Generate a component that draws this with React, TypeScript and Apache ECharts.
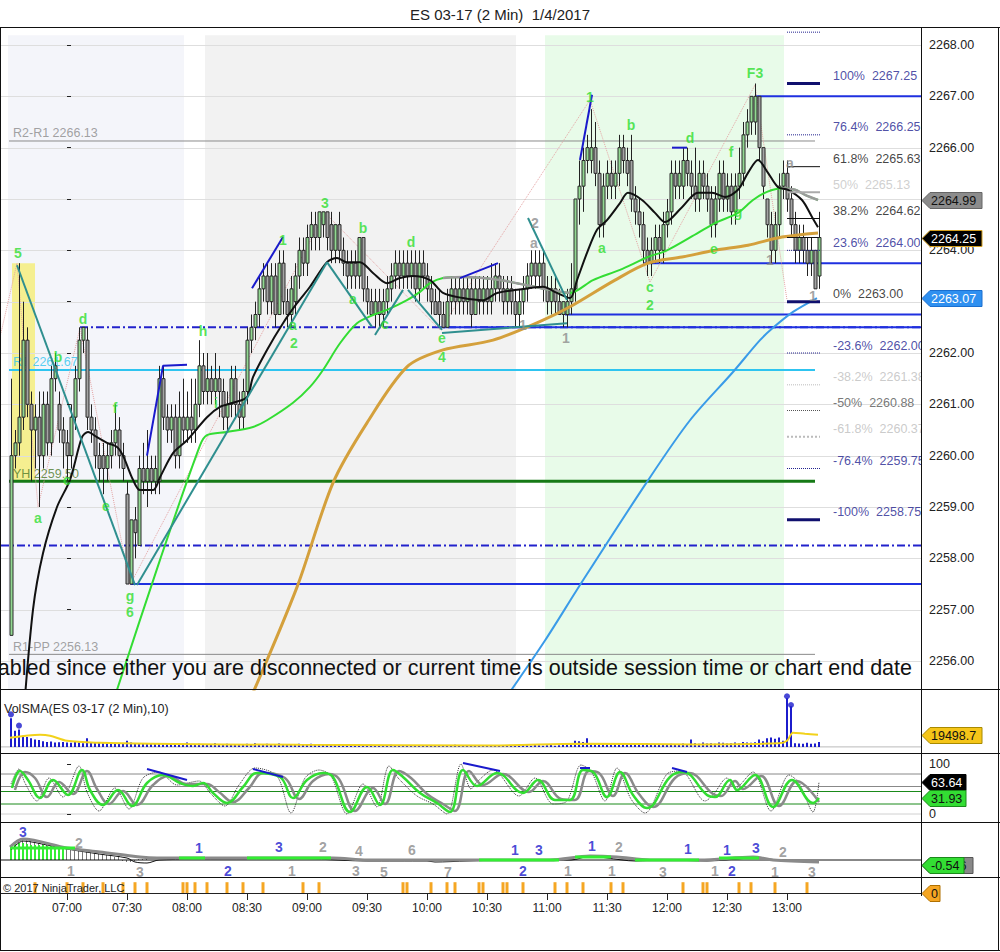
import { useEffect, useRef } from "react";
import * as echarts from "echarts";

const FONT = '"Liberation Sans", Arial, sans-serif';

// x is counted in 2-minute bars from 07:00
const X_MIN = -16.5;
const X_MAX = 213.5;
const FIRST_BAR = -14; // 06:32
const MAIN_MIN = 2255.455;
const MAIN_MAX = 2268.331;

const priceTicks = [2256, 2257, 2258, 2259, 2260, 2261, 2262, 2263, 2264, 2265, 2266, 2267, 2268];
const timeTicks = [0, 15, 30, 45, 60, 75, 90, 105, 120, 135, 150, 165, 180];

// open, close, low, high
const candles: number[][] = [
  [2256.5,2260,2256.5,2261.5],[2260,2260.25,2259.75,2260.5],[2260.25,2260.75,2260,2263.75],[2260.75,2262.25,2260.5,2263],[2262.25,2261,2260.75,2262.5],[2261,2260.5,2259.5,2261.25],[2260.5,2260.75,2259.75,2261],[2260.75,2260,2259,2261.25],[2260,2261,2259.75,2261.25],[2261,2260.25,2260,2261.25],
  [2260.25,2261.5,2260,2261.75],[2261.5,2261.75,2261.25,2262],[2261,2260.5,2260.25,2261.25],[2260.5,2260.25,2259.75,2260.75],[2260.25,2260,2259.5,2260.5],[2260,2260.75,2259.75,2261],[2260.75,2261.5,2260.5,2261.75],[2261.5,2262.25,2261.25,2262.5],[2262.25,2262.5,2262,2262.5],[2262.25,2260.75,2260.5,2262.5],
  [2260.75,2260.5,2260.25,2261],[2260.5,2260,2259.75,2260.75],[2260,2259.75,2259.5,2260.25],[2260,2259.75,2259.25,2260.25],[2259.75,2260,2259.5,2260.25],[2260,2260.25,2259.75,2260.5],[2260.25,2260.5,2260,2261],[2260.5,2260,2259.75,2260.75],[2260,2259.75,2259.5,2260.25],[2259.25,2257.5,2257.5,2259.5],
  [2257.5,2258.75,2257.5,2258.75],[2258.75,2258.5,2258,2259],[2258.25,2259.75,2258.25,2260],[2259.75,2259.5,2259.25,2260.25],[2259.5,2259.75,2259,2260.5],[2259.75,2259.5,2259.25,2260],[2259.5,2259.75,2259.25,2260],[2259.5,2261.5,2259.25,2261.75],[2261.5,2260.75,2260.5,2261.75],[2260.75,2260.5,2260.25,2261],
  [2260.5,2260.75,2260.25,2261],[2260.75,2260,2259.75,2261],[2260,2260.75,2259.75,2261.25],[2260.75,2260.5,2260.25,2261.5],[2260.5,2260.75,2260.25,2261.25],[2260.75,2260.5,2260.25,2261.5],[2260.5,2261,2260.25,2261.5],[2261,2261.75,2260.75,2262.25],[2261.75,2261.25,2261,2262],[2261.25,2261.5,2261,2262],
  [2261.5,2261.25,2261,2261.75],[2261.25,2261.5,2261,2262],[2261.5,2261.25,2260.75,2261.75],[2261.25,2260.75,2260.5,2261.5],[2260.75,2261,2260.5,2261.25],[2261,2261.5,2260.75,2261.75],[2261.5,2261,2260.75,2261.75],[2261,2260.75,2260.5,2261.25],[2260.75,2261.25,2260.5,2261.5],[2261.25,2262.25,2261,2262.5],
  [2262.25,2262.5,2262,2262.75],[2262.5,2262.75,2262.25,2263],[2262.75,2263.25,2262.5,2263.5],[2263.25,2263.5,2263,2263.75],[2263.5,2263,2262.75,2263.75],[2263,2263.5,2262.75,2263.75],[2263.5,2262.75,2262.5,2263.75],[2262.75,2263.75,2262.75,2264],[2263.75,2263,2262.75,2264],[2263,2262.75,2262.5,2263.25],
  [2262.75,2263.25,2262.5,2263.5],[2263,2263.5,2262.75,2263.75],[2263.5,2264,2263.25,2264.25],[2264,2263.75,2263.5,2264.25],[2263.75,2264.25,2263.5,2264.5],[2264.25,2264.5,2264,2264.75],[2264.5,2264.25,2264,2264.75],[2264.25,2264.75,2264,2264.75],[2264.5,2264.75,2264.25,2264.75],[2264.75,2264.25,2264,2264.75],
  [2264.5,2264,2263.75,2264.75],[2264,2264.5,2263.75,2264.5],[2264.5,2264,2263.75,2264.75],[2264,2263.75,2263.5,2264.25],[2263.75,2263.5,2263.25,2264],[2263.5,2263.75,2263.25,2264],[2263.75,2263.5,2263.25,2264],[2263.5,2264.25,2263.25,2264.25],[2264.25,2263.25,2263,2264.25],[2263.25,2263,2262.75,2263.5],
  [2263,2262.75,2262.75,2263.25],[2262.75,2263,2262.5,2263.25],[2263,2262.75,2262.5,2263.25],[2262.75,2263,2262.5,2263.25],[2263,2263.25,2262.75,2263.5],[2263.25,2263.5,2263,2263.75],[2263.5,2263.75,2263.25,2264],[2263.75,2263.5,2263.25,2264],[2263.5,2263.75,2263.25,2264],[2263.75,2263.5,2263.25,2264],
  [2263.5,2263.75,2263.25,2264],[2263.75,2263.25,2263,2264],[2263.25,2263.75,2263,2264],[2263.75,2263.5,2263.25,2264],[2263.5,2263.25,2263,2263.75],[2263.25,2263,2262.75,2263.5],[2263,2262.75,2262.75,2263.25],[2263,2262.75,2262.5,2263.25],[2262.75,2262.5,2262.5,2263],[2262.5,2263,2262.5,2263.25],
  [2263,2263.25,2262.75,2263.5],[2263.25,2263,2262.75,2263.5],[2263,2263.25,2262.75,2263.5],[2263.25,2263,2262.75,2263.5],[2263,2263.25,2262.75,2263.5],[2263.25,2262.75,2262.5,2263.5],[2262.75,2263.25,2262.75,2263.5],[2263.25,2263,2262.75,2263.5],[2263,2263.25,2262.75,2263.5],[2263.25,2263,2262.75,2263.5],
  [2263,2263.25,2262.75,2263.75],[2263.25,2263.5,2263,2263.75],[2263.5,2263.25,2263,2263.75],[2263.25,2263,2262.75,2263.5],[2263,2263.25,2262.75,2263.5],[2263.25,2263,2262.75,2263.5],[2263,2262.75,2262.5,2263.25],[2262.75,2263,2262.5,2263.25],[2263,2263.25,2262.75,2263.5],[2263.25,2263.5,2263,2263.75],
  [2263.5,2263.75,2263.25,2264],[2263.75,2263.5,2263.25,2264],[2263.5,2263.75,2263.25,2264],[2263.75,2263.25,2263,2264],[2263.25,2263,2262.75,2263.5],[2263,2263.25,2262.75,2263.5],[2263.25,2263,2262.75,2263.5],[2263,2262.75,2262.75,2263.25],[2262.75,2263,2262.5,2263],[2262.75,2263,2262.5,2263.25],
  [2263,2263.25,2262.75,2263.75],[2263.25,2265,2263,2265],[2265,2265.25,2264.5,2265.75],[2265.25,2265.75,2264.75,2266],[2265.75,2266,2265.5,2266.25],[2265.75,2266,2265.5,2266.75],[2266,2265.5,2265.25,2266.5],[2265.5,2264.5,2264.25,2265.75],[2264.5,2265.25,2264.25,2265.5],[2265.25,2265.5,2265,2265.75],
  [2265.5,2265.25,2265,2265.75],[2265.25,2265.5,2265,2265.75],[2265.5,2266,2265.25,2266.25],[2266,2265.75,2265.5,2266.25],[2265.75,2265.5,2265.25,2266],[2265.75,2265,2264.75,2266.25],[2265,2264.75,2264.5,2265.25],[2264.75,2264.5,2264.25,2265],[2264.5,2264,2263.75,2264.75],[2264,2263.75,2263.5,2264.25],
  [2263.75,2264,2263.5,2264.25],[2264,2264.25,2263.75,2264.5],[2264.25,2264,2263.75,2264.5],[2264,2264.5,2263.75,2264.75],[2264.5,2264.75,2264.25,2265],[2264.75,2265.5,2264.5,2265.75],[2265.5,2265.25,2265,2265.75],[2265.25,2265.5,2265,2265.75],[2265.25,2265.75,2265,2266],[2265.75,2265.5,2265.25,2266],
  [2265.5,2265.25,2265,2265.75],[2265.25,2265,2264.75,2266],[2265,2265.5,2264.75,2265.75],[2265.5,2265.25,2265,2265.75],[2265.25,2265,2264.75,2265.5],[2265,2264.5,2264.25,2265.25],[2264.5,2265,2264.25,2265.25],[2265,2265.5,2264.75,2265.75],[2265.5,2265,2264.75,2265.75],[2265,2265.25,2264.75,2265.5],
  [2265.25,2264.75,2264.5,2265.5],[2264.75,2265.25,2264.5,2265.5],[2265.25,2265.5,2265,2266],[2265.5,2266.25,2265.25,2266.5],[2266.25,2266.5,2266,2266.75],[2266.5,2267,2266.25,2267],[2266.5,2267,2266.25,2267.25],[2267,2266,2265.75,2267],[2266,2265.25,2265,2266],[2265,2264.5,2264.25,2265],
  [2264.5,2264,2263.75,2264.75],[2264,2264.5,2263.75,2264.75],[2264.5,2265.25,2264.25,2265.5],[2265.25,2265.5,2265,2265.75],[2265.5,2265,2264.75,2265.75],[2265,2264.5,2264.25,2265.25],[2264.5,2264,2263.75,2264.75],[2264,2264.25,2263.75,2264.5],[2264.25,2264,2263.75,2264.5],[2264,2263.75,2263.5,2264.25],
  [2263.75,2264,2263.5,2264.25],[2264,2263.25,2263.25,2264],[2263.5,2264.25,2263.25,2264.75],
];

const volumes = [
  46000, 26000, 28000, 18000, 16000, 14000, 12000, 11000, 9000, 8000, 8500, 7000, 7500, 8000,
  7000, 6500, 9000, 7000, 6000, 14000, 8000, 7000, 6500, 6000, 5500, 6000, 5000, 6000, 5500,
  10000, 7000, 6000, 5500, 5000, 6000, 5000, 4500, 5000, 4000, 5000, 4500, 5000, 4500, 4000,
  7000, 4500, 4000, 5000, 4000, 4000, 3500, 6000, 4000, 3500, 5000, 3500, 4500, 4000, 3500,
  5000, 4000, 6000, 4000, 3500, 5000, 4000, 3500, 5500, 4500, 4000, 3500, 4000, 5000, 4500,
  4000, 5000, 3500, 4000, 4500, 4000, 3000, 3500, 4000, 3500, 3000, 3500, 4000, 3500, 3000,
  2500, 3500, 3000, 2000, 3000, 2500, 3500, 2000, 2500, 3000, 2000, 2500, 3000, 2500, 2000,
  3000, 2500, 2000, 3000, 2500, 2000, 2500, 3500, 2000, 2500, 3000, 2000, 2500, 2000, 3000,
  2500, 2000, 3000, 2500, 2000, 2500, 3000, 2000, 2500, 3000, 2500, 2000, 3000, 2500, 2000,
  2500, 3000, 2000, 2500, 3000, 4000, 5000, 10000, 9000, 8000, 14000, 6000, 4500, 6000, 5000,
  4000, 6000, 5500, 4500, 5000, 4000, 6000, 5500, 5000, 4500, 6000, 4000, 3500, 4500, 4000,
  3500, 5000, 3000, 4000, 5500, 4000, 12000, 6000, 5000, 7000, 5500, 6000, 5000, 7000, 6500,
  5500, 6000, 7000, 5500, 8000, 7000, 6500, 7500, 12000, 9000, 14000, 15000, 13000, 15000, 10000,
  78000, 65000, 6000, 5500, 5000, 6500, 5000, 5500, 8000,
];
const volDots = [[-14, 52000], [-12, 34000], [180, 81000], [181, 67000]];
const volSMA = [[-14.25, 14600], [-6.75, 19500], [-4.25, 17900], [0, 9750], [8.25, 6500], [20.75, 4900], [58, 3250], [108, 2400], [128, 4900], [158, 4000], [178, 5700], [180, 9750], [181.5, 22750], [184.5, 21000], [187.75, 19500]];

const fastMA = [[-11, 2254.8], [-8.5, 2257], [-6, 2258.1], [-2.5, 2259], [0.75, 2259.53], [3.75, 2260.36], [5.25, 2260.46], [7.5, 2260.36], [10, 2260.25], [12.5, 2260.17], [14, 2260], [16.5, 2259.53], [18.25, 2259.33], [21.5, 2259.33], [23.25, 2259.58], [26.5, 2260.05], [30, 2260.3], [35, 2260.75], [38.25, 2260.95], [41.5, 2261.03], [45, 2261.14], [46.5, 2261.53], [50, 2262.06], [54, 2262.58], [57.5, 2262.97], [60.75, 2263.29], [65, 2263.77], [67.5, 2263.85], [70, 2263.77], [73.25, 2263.77], [76.5, 2263.56], [80, 2263.36], [83.25, 2263.46], [86.5, 2263.5], [90.75, 2263.42], [94, 2263.17], [99, 2263.07], [104, 2263.03], [107.5, 2263.17], [112.5, 2263.23], [119, 2263.29], [122.5, 2263.17], [125.75, 2263.07], [127.5, 2263.42], [130, 2263.95], [132.5, 2264.4], [135, 2264.59], [138.25, 2264.92], [140.25, 2265.12], [143.75, 2264.98], [147, 2264.73], [149.5, 2264.55], [153.75, 2264.84], [157.75, 2265.12], [161.25, 2265.12], [164.5, 2265.04], [167.75, 2265.18], [170.25, 2265.51], [172.75, 2265.76], [175.25, 2265.51], [177.75, 2265.23], [180.25, 2265.18], [183.75, 2264.98], [186.25, 2264.65], [187.75, 2264.45]];
const midMA = [[11.5, 2255.2], [23.25, 2257.97], [33.25, 2260.2], [35, 2260.4], [40, 2260.46], [46.5, 2260.56], [50, 2260.69], [56.5, 2261.03], [60.75, 2261.34], [64, 2261.67], [68.25, 2262.19], [72.5, 2262.58], [76.5, 2262.74], [80, 2262.84], [85, 2263.03], [88.25, 2263.19], [90.75, 2263.36], [94, 2263.46], [99, 2263.48], [108.25, 2263.42], [120.75, 2263.23], [125.75, 2263.17], [131.5, 2263.42], [138.25, 2263.62], [145.25, 2263.87], [150, 2264], [157.75, 2264.34], [162, 2264.53], [167.75, 2264.73], [171.5, 2264.98], [175, 2265.14], [178.75, 2265.21], [182, 2265.18], [184.5, 2265.08], [187.75, 2264.98]];
const midMAFalling = [
  [[94, 2263.46], [99, 2263.48], [108.25, 2263.42], [120.75, 2263.23], [125.75, 2263.17]],
  [[178.75, 2265.21], [182, 2265.18], [184.5, 2265.08], [187.75, 2264.98]],
];
const slowMA = [[45.5, 2255.2], [57.5, 2257.44], [66.5, 2259.47], [75, 2260.64], [85, 2261.73], [94, 2262.06], [106.5, 2262.25], [119, 2262.64], [125.75, 2262.9], [137, 2263.42], [145.25, 2263.75], [153.75, 2263.87], [162, 2264], [170.25, 2264.1], [178.75, 2264.26], [187.75, 2264.34]];
const longMA = [[109, 2255.2], [119.5, 2256.4], [128.25, 2257.48], [145, 2259.49], [155.75, 2260.69], [166.5, 2261.63], [173.25, 2262.25], [176.5, 2262.49], [181.5, 2262.8], [187.5, 2263.07]];

const waveLines = [
  [[-12.5, 2263.71], [17, 2257.48]],
  [[17.5, 2257.48], [65, 2263.77]],
  [[65, 2263.77], [76.25, 2262.51]],
  [[77, 2262.35], [84, 2263.23]],
  [[85.25, 2263.23], [93.75, 2262.45]],
  [[93.75, 2262.39], [125, 2262.58]],
  [[115.25, 2264.63], [125, 2263.03]],
];
const blueTrends = [
  [[20, 2260], [24, 2261.75], [30, 2261.77]],
  [[46.25, 2263.26], [54, 2264.26]],
  [[98.25, 2263.46], [107.75, 2263.75]],
  [[128.25, 2265.76], [131.25, 2267.03]],
  [[151.25, 2266], [155, 2266]],
];
const zigzag = [[-16.75, 2262.31], [-12.5, 2263.75], [-7.25, 2259], [3.25, 2262.49], [15.75, 2257.48], [64.5, 2264.73], [93.25, 2262.45], [130.75, 2266.93], [145.75, 2263.38], [172, 2267.22], [180, 2263.03]];

const pivots: [string, number][] = [["R2-R1", 2266.13], ["R1", 2261.67], ["YH", 2259.5], ["R1-PP", 2256.13]];
const swingLevels = [[2262.5, 93.25], [2262.75, 124.5], [2263.75, 144], [2267, 172], [2257.5, 15.75]];
const dashLevels = [[2262.5, 3.25], [2258.25, X_MIN]];

const fibLevels: [string, number][] = [
  ["100%", 2267.25], ["76.4%", 2266.25], ["61.8%", 2265.63], ["50%", 2265.13], ["38.2%", 2264.62],
  ["23.6%", 2264.0], ["0%", 2263.0], ["-23.6%", 2262.0], ["-38.2%", 2261.38], ["-50%", 2260.88],
  ["-61.8%", 2260.37], ["-76.4%", 2259.75], ["-100%", 2258.75],
];
const fibLook = [
  { line: "#10106e", w: 3, type: "solid", text: "#22228f" },
  { line: "#22228f", w: 1, type: "dotted", text: "#22228f" },
  { line: "#111", w: 1, type: "solid", text: "#111" },
  { line: "#aaa", w: 2, type: "solid", text: "#c4c4c4" },
  { line: "#111", w: 1, type: "solid", text: "#111" },
  { line: "#22228f", w: 1, type: "dotted", text: "#22228f" },
  { line: "#10106e", w: 3, type: "solid", text: "#111" },
  { line: "#22228f", w: 1, type: "dotted", text: "#22228f" },
  { line: "#bbb", w: 1, type: "dotted", text: "#bdbdbd" },
  { line: "#555", w: 1, type: "dotted", text: "#555" },
  { line: "#bbb", w: 2, type: "dotted", text: "#bdbdbd" },
  { line: "#22228f", w: 1, type: "dotted", text: "#22228f" },
  { line: "#10106e", w: 3, type: "solid", text: "#22228f" },
];

const greenLabels: [number, number, string][] = [
  [-12.25, 2263.95, "5"], [-7.25, 2258.79, "a"], [-2.25, 2261.92, "b"], [0, 2259.53, "c"], [4, 2262.66, "d"],
  [9.75, 2259.02, "e"], [12, 2260.93, "f"], [15.75, 2257.27, "g"], [15.75, 2256.95, "6"], [34, 2262.43, "h"],
  [37.25, 2261.03, "i"], [54, 2264.2, "1"], [56.5, 2262.55, "a"], [56.75, 2262.19, "2"], [64.5, 2264.92, "3"],
  [71.5, 2263.05, "a"], [74, 2264.43, "b"], [79.5, 2262.56, "c"], [86, 2264.16, "d"], [93.75, 2262.29, "e"],
  [93.75, 2261.92, "4"], [130.75, 2266.99, "1"], [133.75, 2264.05, "a"], [141, 2266.44, "b"], [145.75, 2263.29, "c"],
  [145.75, 2262.93, "2"], [155.75, 2266.19, "d"], [166, 2265.92, "f"], [161.75, 2264.03, "e"], [167.75, 2264.75, "g"],
  [172, 2267.45, "F3"],
];
const grayLabels: [number, number, string][] = [
  [117, 2264.53, "2"], [116.75, 2264.14, "a"], [114, 2262.55, "1"], [124.75, 2262.29, "1"],
  [175.75, 2263.81, "1"], [180.75, 2265.7, "a"], [186.5, 2263.11, "1"],
];

const stochGreen = [[-13.75,52],[-11.75,86],[-9.75,68],[-6.75,32],[-3.5,68],[0.25,38],[3.75,88],[5.75,48],[9,18],[12.75,48],[16.25,16],[20,62],[24,78],[28.25,62],[31.5,56],[34,62],[36.5,42],[40,22],[44,54],[47.5,82],[53.25,74],[56.5,32],[60,68],[64,82],[66.5,74],[70.75,4],[75,54],[78.25,18],[81.5,88],[84,74],[88.25,42],[92.5,22],[95.75,4],[99,88],[102.5,56],[107.5,82],[114,42],[117.75,68],[122,28],[125.75,28],[129,88],[131.5,84],[135,34],[138.25,84],[141.5,38],[145,12],[150.75,74],[154,84],[160,38],[162,34],[165.75,68],[167.5,48],[172,78],[176.5,14],[181.25,68],[186.5,22],[188,32]];
const stochGray = [[-13,48],[-10.5,84],[-8,72],[-5,34],[-2,64],[1.5,40],[5,86],[7.5,50],[10.5,20],[14,46],[17.5,18],[21.5,58],[25.5,76],[30,60],[35,60],[38,44],[41.5,24],[45.5,52],[49,82],[54.5,72],[58,30],[61.5,66],[65.5,80],[68,70],[72,6],[76.5,52],[79.5,20],[83,86],[86,72],[90,40],[94,20],[97,6],[100.5,86],[104,58],[109,80],[115.5,44],[119,66],[123.5,30],[127,28],[130.5,86],[133,82],[136.5,36],[139.5,82],[143,40],[146.5,14],[152,72],[155.5,82],[161.5,40],[163.5,36],[167,66],[169,50],[173.5,76],[178,16],[182.5,66],[188,24]];
const stochRaw = [[-14,60],[-12,90],[-10.5,62],[-7.5,26],[-4.5,72],[-1,34],[3,96],[5,44],[8,6],[12,52],[15.5,10],[19,72],[23,84],[27.5,58],[33,66],[36,40],[39.5,16],[43,58],[47,92],[52.5,76],[56,2],[59.5,72],[63,88],[66,76],[70,0],[74,60],[77.5,14],[80.5,96],[83,70],[87.5,36],[91.5,20],[95,0],[98.5,100],[101,50],[102.5,64],[106.5,88],[113,36],[117,72],[121.5,20],[125,26],[128.5,98],[131,86],[134.5,26],[137.5,92],[141,30],[144.5,2],[150,80],[153.5,86],[159.5,26],[161.5,38],[165,72],[167,52],[171.5,84],[176,6],[180.5,78],[183,62],[186.5,4],[188,64]];
const stochDivergence = [
  [[20, 90], [30, 68]], [[46.5, 90], [54, 74]], [[99, 102], [108.25, 86]], [[128.25, 92], [130.75, 92]], [[151.25, 92], [155, 84]],
];
const stochLevels = [[80, "#888"], [55, "#888"], [45, "#1a8a1a"], [20, "#1a8a1a"], [0, "#d0d0d0"]];

const oscGray = [[-14.25,1.3],[-11,2.1],[0,1.2],[8.25,0.8],[18.25,0.3],[22.5,0.2],[33.25,0.2],[58.25,0.2],[66.5,0.2],[75,0],[108.25,0],[120.75,0],[130.75,0.4],[137.5,0.3],[145.75,0],[158.25,0],[171.5,0.3],[176.5,0],[188,-0.2]];
const oscBlack = [[-14,1.0],[-11,1.9],[-5,1.5],[0,1.1],[8,0.6],[15,0.2],[17,-0.2],[20,-0.3],[23,0],[40,0.1],[60,0.1],[75,-0.1],[90,-0.1],[92,-0.2],[100,-0.1],[110,0],[126,0],[131,0.4],[135,0.2],[142,-0.1],[150,0],[160,-0.1],[172,0.2],[178,0],[188,-0.2]];
const oscGreenRuns = [[-14, 2, 1.2], [28, 34.5, 0.2], [45, 66, 0.2], [103, 123, 0], [127, 136, 0.3], [142, 158, 0], [163, 173, 0.2]];
const oscHistGray = [1.3,1.7,2.0,2.1,2.0,1.9,1.8,1.7,1.6,1.5,1.5,1.4,1.3,1.3,1.2,1.1,1.0,1.0,0.9,0.8,0.8,0.7,0.6,0.5,0.5,0.4,0.3,0.3,-0.1,-0.2,-0.2,-0.1,0.1,0.1,0.2];
const oscHistGreen = [1.4,1.6,1.7,1.7,1.6,1.5,1.5,1.5,1.5,1.4,1.4,1.3,1.3,1.2];
const oscLabels: [number, number, string, boolean][] = [
  [-11, 2.8, "3", true], [3, 1.7, "2", false], [33, 1.2, "1", true], [53, 1.3, "3", true], [64, 1.3, "2", false],
  [73, 0.9, "4", false], [86.25, 1.0, "6", false], [112, 1.0, "1", true], [118, 1.0, "3", true], [131.25, 1.4, "1", true],
  [138, 1.3, "2", false], [155.25, 1.1, "1", true], [165, 1.0, "1", true], [172.25, 1.2, "3", true], [179, 0.8, "2", false],
  [1, -1.1, "1", false], [18.25, -1.2, "3", false], [40.25, -1.1, "2", true], [56.25, -1.1, "1", false], [72.25, -1.1, "3", false],
  [79.25, -1.2, "5", false], [95.25, -1.2, "7", false], [114, -1.1, "2", true], [125.25, -1.1, "1", false], [136.25, -1.1, "1", false],
  [149, -1.2, "3", false], [162, -1.1, "1", false], [166.25, -1.1, "2", true], [177, -1.2, "1", false], [186.25, -1.2, "3", false],
];

const alertBars = [-8, 0, 4, 9, 14, 17, 20, 29, 30, 32, 35, 40, 44, 49, 59, 63, 84, 85, 91, 95, 97, 103, 104, 109, 110, 114, 122, 125, 129, 136, 139, 154, 159, 160, 168, 171, 177, 185];

// session bands [from, to] and the "5" highlight box
const sessions = [[-14.75, 29.25], [34.5, 112.25], [119.5, 179.25]];
const sessionColors = ["#f4f5fa", "#f2f2f2", "#e8fbe9"];
const highlight = [-13.75, -8, 2263.75, 2259.5];

// last-value tags: axis, value, text
const lastTags: [number, number, string][] = [
  [0, 2264.99, "2264.99"], [0, 2264.25, "2264.25"], [0, 2263.07, "2263.07"],
  [1, 19498.7, "19498.7"], [2, 63.64, "63.64"], [2, 31.93, "31.93"],
  [3, -0.546, "-0.546"], [3, -0.54, "-0.54"], [4, 0, "0"],
];
const tagLook = [
  { bg: "#8c8c8c", fg: "#111", w: 52, border: "#666" },
  { bg: "#000", fg: "#fff", w: 52, border: "#d4a020" },
  { bg: "#2f90f0", fg: "#fff", w: 52, border: "#1a6fd0" },
  { bg: "#f5c518", fg: "#111", w: 52, border: "#a88a00" },
  { bg: "#000", fg: "#fff", w: 36, border: "#000" },
  { bg: "#33dd33", fg: "#111", w: 36, border: "#1a8a1a" },
  { bg: "#888", fg: "#111", w: 43, border: "#555" },
  { bg: "#33dd33", fg: "#111", w: 34, border: "#1a8a1a" },
  { bg: "#f5a623", fg: "#111", w: 10, border: "#b07000" },
];

const fmtTime = (v: number) => {
  const m = 7 * 60 + v * 2;
  const h = Math.floor(m / 60);
  const mm = m % 60;
  return `${String(h).padStart(2, "0")}:${String(mm).padStart(2, "0")}`;
};

function seg(data: number[][], g: number, color: string, width: number, type: any = "solid", z = 3, smooth: any = false) {
  return {
    type: "line", xAxisIndex: g, yAxisIndex: g, data, symbol: "none", showSymbol: false, smooth, z, silent: true,
    lineStyle: { color, width, type },
  };
}

function textPoints(g: number, items: any[], label: any, z = 8) {
  return {
    type: "scatter", xAxisIndex: g, yAxisIndex: g, z, silent: true, symbolSize: 1,
    itemStyle: { color: "transparent" },
    data: items,
    label: { show: true, position: "inside", formatter: (p: any) => p.data.name, fontFamily: FONT, ...label },
  };
}

function buildOption(): any {
  const grids = [
    { left: 1, right: 79, top: 28, height: 661 },
    { left: 1, right: 79, top: 690, height: 63 },
    { left: 1, right: 79, top: 754, height: 68 },
    { left: 1, right: 79, top: 823, height: 54 },
    { left: 1, right: 79, top: 878, height: 18 },
  ];
  const hiddenX = (g: number) => ({ type: "value", gridIndex: g, min: X_MIN, max: X_MAX, show: false });
  const axisText = { color: "#222", fontFamily: FONT, fontSize: 12.5 };

  const series: any[] = [];

  // session shading + highlight
  series.push({
    type: "custom", xAxisIndex: 0, yAxisIndex: 0, z: 0, silent: true,
    data: sessions.map((s, i) => [s[0], s[1], 2268.19, MAIN_MIN, i]).concat([[highlight[0], highlight[1], highlight[2], highlight[3], 3]]),
    encode: { x: [0, 1], y: [2, 3] },
    renderItem: (_p: any, api: any) => {
      const a = api.coord([api.value(0), api.value(2)]);
      const b = api.coord([api.value(1), api.value(3)]);
      const i = api.value(4);
      return {
        type: "rect",
        shape: { x: a[0], y: a[1], width: b[0] - a[0], height: b[1] - a[1] },
        style: { fill: i === 3 ? "#f5ef90" : sessionColors[i] },
      };
    },
  });

  // price grid lines
  series.push({
    type: "custom", xAxisIndex: 0, yAxisIndex: 0, z: 1, silent: true,
    data: priceTicks.map((p) => [0, p]),
    encode: { x: 0, y: 1 },
    renderItem: (params: any, api: any) => {
      const y = Math.round(api.coord([0, api.value(1)])[1]) + 0.5;
      const cs = params.coordSys;
      return { type: "line", shape: { x1: cs.x, y1: y, x2: cs.x + cs.width, y2: y }, style: { stroke: "#dedede", lineWidth: 1 } };
    },
  });

  // pivot lines
  const pivotColors = ["#8a8a8a", "#2ec4f0", "#167a16", "#8a8a8a"];
  const pivotWidths = [1, 2, 3, 1];
  pivots.forEach(([, p], i) => series.push(seg([[-14.5, p], [187, p]], 0, pivotColors[i], pivotWidths[i], "solid", 2)));
  series.push(textPoints(0, pivots.map(([n, p], i) => ({ name: `${n} ${p.toFixed(2)}`, value: [-13.5, p], label: { color: ["#8a8a8a", "#2ec4f0", "#4d7a2a", "#8a8a8a"][i] } })),
    { align: "left", verticalAlign: "bottom", offset: [0, -1], fontSize: 12.5 }, 2));

  dashLevels.forEach(([p, from]) => series.push(seg([[from, p], [X_MAX, p]], 0, "#2222cc", 2, [8, 3, 2, 3], 2)));
  swingLevels.forEach(([p, from]) => series.push(seg([[from, p], [X_MAX, p]], 0, "#1f30e0", 2, "solid", 2)));

  // zigzag
  series.push(seg(zigzag, 0, "#e4a4a4", 1, "dotted", 2));

  // candles
  series.push({
    type: "custom", xAxisIndex: 0, yAxisIndex: 0, z: 3, silent: true,
    data: candles.map((c, i) => [FIRST_BAR + i, c[0], c[1], c[2], c[3]]),
    encode: { x: 0, y: [1, 2, 3, 4] },
    renderItem: (_p: any, api: any) => {
      const t = api.value(0);
      const o = api.value(1), c = api.value(2), lo = api.value(3), hi = api.value(4);
      const po = api.coord([t, o]);
      const pc = api.coord([t, c]);
      const pl = api.coord([t, lo]);
      const ph = api.coord([t, hi]);
      const x = Math.round(po[0]) + 0.5;
      const top = Math.min(po[1], pc[1]);
      const bot = Math.max(po[1], pc[1]);
      return {
        type: "group",
        children: [
          { type: "line", shape: { x1: x, y1: ph[1], x2: x, y2: pl[1] }, style: { stroke: "#222", lineWidth: 1 } },
          {
            type: "rect",
            shape: { x: x - 1.5, y: top, width: 3, height: Math.max(bot - top, 1) },
            style: { fill: c >= o ? "#92d892" : "#a4a4a4", stroke: "#2a2a2a", lineWidth: 1 },
          },
        ],
      };
    },
  });

  // moving averages
  series.push(seg(longMA, 0, "#3a9be8", 2, "solid", 4, 0.3));
  series.push(seg(slowMA, 0, "#d4a03c", 3, "solid", 4, 0.3));
  series.push(seg(midMA, 0, "#33dd33", 2, "solid", 4, 0.3));
  midMAFalling.forEach((d) => series.push(seg(d, 0, "#9a9a9a", 2.5, "solid", 4, 0.3)));
  series.push(seg(fastMA, 0, "#111", 2, "solid", 5, 0.3));

  // wave trend lines
  waveLines.forEach((d) => series.push(seg(d, 0, "#2f8f8f", 2, "solid", 6)));
  blueTrends.forEach((d) => series.push(seg(d, 0, "#1a1acc", 2, "solid", 6)));

  // fib block
  fibLevels.forEach(([, p], i) => series.push(seg([[180, p], [188.25, p]], 0, fibLook[i].line, fibLook[i].w, fibLook[i].type, 6)));
  series.push(seg([[180, 2268.25], [188.25, 2268.25]], 0, "#22228f", 1, "dotted", 6));
  series.push(seg([[180, 2264.25], [187.75, 2264.25]], 0, "#111", 1, "solid", 6));
  series.push(textPoints(0, fibLevels.map(([n, p], i) => ({ name: `${n}  ${p.toFixed(2)}`, value: [191.5, p], label: { color: fibLook[i].text } })),
    { align: "left", verticalAlign: "bottom", offset: [0, -1], fontSize: 12.5 }, 7));

  // wave labels
  series.push(textPoints(0, greenLabels.map(([t, p, s]) => ({ name: s, value: [t, p] })), { color: "#2ede2e", fontSize: 14, fontWeight: "bold" }));
  series.push(textPoints(0, grayLabels.map(([t, p, s]) => ({ name: s, value: [t, p] })), { color: "#8c8c8c", fontSize: 14, fontWeight: "bold" }));

  // volume
  series.push(seg([[X_MIN, 0], [X_MAX, 0]], 1, "#bbb", 1, "solid", 1));
  series.push({
    type: "bar", xAxisIndex: 1, yAxisIndex: 1, barWidth: 2, silent: true, z: 2,
    data: volumes.map((v, i) => [FIRST_BAR + i, v]),
    itemStyle: { color: "#1c1ccc" },
  });
  series.push({
    type: "scatter", xAxisIndex: 1, yAxisIndex: 1, symbolSize: 6, silent: true, z: 3,
    data: volDots, itemStyle: { color: "#1c1ccc" },
  });
  series.push(seg(volSMA, 1, "#f2d21b", 2, "solid", 3, 0.3));

  // stochastics
  stochLevels.forEach(([v, c]) => series.push(seg([[X_MIN, v as number], [X_MAX, v as number]], 2, c as string, 1, "solid", 1)));
  series.push(seg(stochRaw, 2, "#333", 1, "dotted", 2, 0.3));
  series.push(seg(stochGray, 2, "#8a8a8a", 2.5, "solid", 3, 0.4));
  series.push(seg(stochGreen, 2, "#33dd33", 2.5, "solid", 4, 0.4));
  stochDivergence.forEach((d) => series.push(seg(d, 2, "#1a1acc", 2, "solid", 5)));

  // oscillator
  series.push({
    type: "bar", xAxisIndex: 3, yAxisIndex: 3, barWidth: 1, barGap: "-100%", silent: true, z: 1,
    data: oscHistGray.map((v, i) => [FIRST_BAR + i, v]), itemStyle: { color: "#777" },
  });
  series.push({
    type: "bar", xAxisIndex: 3, yAxisIndex: 3, barWidth: 2, barGap: "-100%", silent: true, z: 2,
    data: oscHistGreen.map((v, i) => [FIRST_BAR + i, v]), itemStyle: { color: "#33ee33" },
  });
  series.push(seg([[X_MIN, 0], [X_MAX, 0]], 3, "#111", 1, "solid", 2));
  series.push(seg(oscBlack, 3, "#111", 1, "solid", 3, 0.3));
  series.push(seg(oscGray, 3, "#8a8a8a", 3, "solid", 4, 0.3));
  oscGreenRuns.forEach(([a, b, v]) => series.push(seg([[a, v], [b, v]], 3, "#33ee33", 3, "solid", 5)));
  series.push(textPoints(3, oscLabels.map(([t, v, s, blue]) => ({ name: s, value: [t, v], label: { color: blue ? "#1a1acc" : "#8a8a8a" } })),
    { fontSize: 14, fontWeight: "bold" }));

  // alert strip
  series.push({
    type: "bar", xAxisIndex: 4, yAxisIndex: 4, barWidth: 3, silent: true,
    data: alertBars.map((t) => [t, 0.72]), itemStyle: { color: "#f5a623" },
  });

  return {
    animation: false,
    backgroundColor: "#fff",
    textStyle: { fontFamily: FONT },
    grid: grids,
    xAxis: [
      hiddenX(0), hiddenX(1), hiddenX(2), hiddenX(3),
      {
        type: "value", gridIndex: 4, min: X_MIN, max: X_MAX,
        axisLine: { show: true, lineStyle: { color: "#222" } },
        axisTick: { show: true, customValues: timeTicks, length: 7, lineStyle: { color: "#222" } },
        axisLabel: { customValues: timeTicks, formatter: fmtTime, ...axisText, fontSize: 12, margin: 6 },
        splitLine: { show: false },
      },
    ],
    yAxis: [
      {
        type: "value", gridIndex: 0, position: "right", min: MAIN_MIN, max: MAIN_MAX, z: 20,
        axisLine: { show: false },
        axisTick: { show: true, customValues: priceTicks, length: 4, lineStyle: { color: "#222" } },
        axisLabel: { customValues: priceTicks, formatter: (v: number) => v.toFixed(2), ...axisText, margin: 8 },
        splitLine: { show: false },
      },
      { type: "value", gridIndex: 1, min: -9750, max: 91000, show: false },
      {
        type: "value", gridIndex: 2, position: "right", min: -16, max: 120, z: 20,
        axisLine: { show: false },
        axisTick: { show: true, customValues: [0, 100], length: 4, lineStyle: { color: "#222" } },
        axisLabel: { customValues: [0, 100], ...axisText, margin: 8 },
        splitLine: { show: false },
      },
      { type: "value", gridIndex: 3, min: -1.7, max: 3.7, show: false },
      { type: "value", gridIndex: 4, min: -0.2, max: 1, show: false },
    ],
    series,
  };
}

function buildGraphic(chart: any): any[] {
  const line = (x1: number, y1: number, x2: number, y2: number) => ({
    type: "line", z: 40, silent: true, shape: { x1, y1, x2, y2 }, style: { stroke: "#111", lineWidth: 1 },
  });
  const text = (x: number, y: number, s: string, size: number, align = "left", color = "#222") => ({
    type: "text", z: 35, silent: true, x, y,
    style: { text: s, fill: color, fontSize: size, fontFamily: FONT, align, verticalAlign: "middle" },
  });

  const els: any[] = [
    { type: "rect", z: 10, silent: true, shape: { x: 922, y: 28, width: 76, height: 661 }, style: { fill: "#fff" } },
    text(500, 14, "ES 03-17 (2 Min)  1/4/2017", 15, "center"),
    text(912, 668, "abled since either you are disconnected or current time is outside session time or chart end date", 21.5, "right", "#111"),
    text(4, 709, "VolSMA(ES 03-17 (2 Min),10)", 12.5, "left", "#222"),
    text(3, 888, "© 2017 NinjaTrader, LLC", 11, "left", "#222"),
    line(0, 27.5, 1000, 27.5),
    line(0.5, 27, 0.5, 951),
    line(998.5, 27, 998.5, 951),
    line(0, 950.5, 1000, 950.5),
    line(0, 689.5, 1000, 689.5),
    line(0, 753.5, 1000, 753.5),
    line(0, 822.5, 1000, 822.5),
    line(0, 877.5, 1000, 877.5),
    line(921.5, 27, 921.5, 896),
  ];

  lastTags.forEach(([axis, v, s], i) => {
    const y = Math.round(chart.convertToPixel({ yAxisIndex: axis }, v)) + 0.5;
    const k = tagLook[i];
    els.push({
      type: "polygon", z: 30 + i * 0.1, silent: true,
      shape: { points: [[922, y], [930, y - 8], [930 + k.w, y - 8], [930 + k.w, y + 8], [930, y + 8]] },
      style: { fill: k.bg, stroke: k.border, lineWidth: 1 },
    });
    els.push({
      type: "text", z: 30 + i * 0.1 + 0.05, silent: true, x: 931, y,
      style: { text: s, fill: k.fg, fontSize: 12.5, fontFamily: FONT, align: "left", verticalAlign: "middle" },
    });
  });
  return els;
}

export default function App() {
  const ref = useRef<HTMLDivElement>(null);

  useEffect(() => {
    document.body.style.margin = "0";
    if (!ref.current) return;
    const chart = echarts.init(ref.current, undefined, { renderer: "svg" });
    chart.setOption(buildOption());
    chart.setOption({ graphic: buildGraphic(chart) });
    return () => chart.dispose();
  }, []);

  return <div ref={ref} style={{ width: 1000, height: 952 }} />;
}
